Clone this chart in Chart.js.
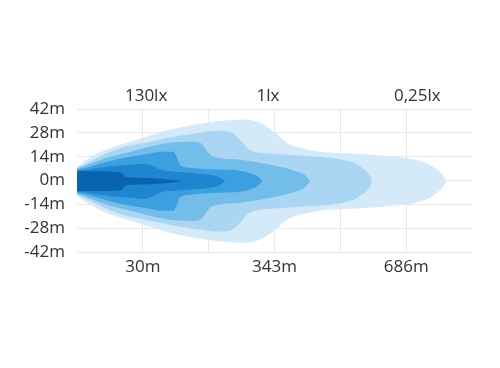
<!DOCTYPE html>
<html>
<head>
<meta charset="utf-8">
<script src="https://cdn.jsdelivr.net/npm/chart.js@4/dist/chart.umd.min.js"></script>
<style>
  html, body { margin: 0; padding: 0; background: #fff; }
</style>
</head>
<body>
<canvas id="chart" width="500" height="368"></canvas>
<script>
// axis labels
const distanceLabels = ['', '30m', '', '343m', '', '686m', ''];
const luxTicks = [1.05, 2.9, 5.17];
const luxLabels = ['130lx', '1lx', '0,25lx'];

// isolux contours: x in grid steps, y in metres (upper and lower edge)
// the nose starts a bit left of the axis and gets clipped there
const layer1X = [-0.12, -0.06, 0, 0.08, 0.2, 0.39, 0.65, 0.91, 1.41, 1.87, 2.25, 2.55, 2.81, 3.01, 3.19, 3.39, 3.69, 4.15, 4.65, 5.06, 5.29, 5.47, 5.56, 5.61];
const layer1Top = [-0.4, 5.5, 7.8, 10.5, 13.5, 17.3, 21.0, 24.0, 29.9, 33.4, 35.2, 35.8, 33.4, 28.1, 22.2, 19.3, 16.9, 15.8, 14.6, 12.8, 10.5, 6.4, 2.8, -0.4];
const layer1Bottom = [-0.4, -6.3, -8.6, -11.3, -14.3, -18.1, -21.8, -24.8, -30.7, -34.2, -36.0, -36.6, -34.2, -28.9, -23.0, -20.1, -17.7, -16.6, -15.4, -13.6, -11.3, -7.2, -3.6, -0.4];

const layer2X = [-0.12, -0.06, 0, 0.12, 0.27, 0.50, 0.81, 1.11, 1.49, 1.87, 2.17, 2.35, 2.48, 2.58, 2.70, 2.93, 3.39, 3.84, 4.15, 4.33, 4.45, 4.48];
const layer2Top = [-0.4, 5.2, 7.3, 9.6, 12.6, 16.8, 20.5, 22.8, 25.8, 28.1, 29.3, 28.1, 24.0, 19.3, 16.9, 15.8, 14.6, 13.4, 11.1, 7.5, 2.8, -0.4];
const layer2Bottom = [-0.4, -6.0, -8.1, -10.4, -13.4, -17.6, -21.3, -23.6, -26.6, -28.9, -30.1, -28.9, -24.8, -20.1, -17.7, -16.6, -15.4, -14.2, -11.9, -8.3, -3.6, -0.4];

const layer3X = [-0.12, -0.06, 0, 0.12, 0.27, 0.50, 0.81, 1.11, 1.41, 1.76, 1.87, 1.94, 2.02, 2.14, 2.48, 2.78, 3.08, 3.31, 3.46, 3.54];
const layer3Top = [-0.4, 4.9, 6.8, 8.6, 10.9, 13.9, 16.9, 19.9, 22.2, 22.8, 22.2, 19.3, 15.2, 13.4, 12.2, 10.5, 8.1, 5.8, 3.4, -0.4];
const layer3Bottom = [-0.4, -5.7, -7.6, -9.4, -11.7, -14.7, -17.7, -20.7, -23.0, -23.6, -23.0, -20.1, -16.0, -14.2, -13.0, -11.3, -8.9, -6.6, -4.2, -0.4];

const layer4X = [-0.12, -0.06, 0, 0.12, 0.27, 0.50, 0.81, 1.11, 1.26, 1.46, 1.52, 1.56, 1.72, 2.17, 2.48, 2.66, 2.75, 2.81];
const layer4Top = [-0.4, 4.6, 6.3, 7.3, 8.9, 11.4, 14.0, 15.8, 16.9, 16.9, 13.4, 9.3, 7.5, 6.4, 5.8, 4.0, 2.2, -0.4];
const layer4Bottom = [-0.4, -5.4, -7.1, -8.1, -9.7, -12.2, -14.8, -16.6, -17.7, -17.7, -14.2, -10.1, -8.3, -7.2, -6.6, -4.8, -3.0, -0.4];

const layer5X = [-0.12, -0.06, 0, 0.12, 0.27, 0.50, 0.81, 1.03, 1.14, 1.26, 1.49, 1.87, 2.10, 2.20, 2.25];
const layer5Top = [-0.4, 4.2, 5.8, 6.2, 7.2, 8.4, 9.3, 9.9, 8.8, 6.4, 5.2, 4.0, 2.8, 1.1, -0.4];
const layer5Bottom = [-0.4, -5.0, -6.6, -7.0, -8.0, -9.2, -10.1, -10.7, -9.6, -7.2, -6.0, -4.8, -3.6, -1.9, -0.4];

const layer6X = [-0.12, -0.06, 0, 0.08, 0.27, 0.58, 0.68, 0.74, 0.96, 1.26, 1.49, 1.59];
const layer6Top = [-0.4, 3.8, 5.3, 5.4, 5.4, 5.2, 4.6, 2.2, 1.6, 1.1, 0.2, -0.4];
const layer6Bottom = [-0.4, -4.6, -6.1, -6.2, -6.2, -6.0, -5.4, -3.0, -2.4, -1.9, -1.0, -0.4];

// darkest first so it ends up on top
const layers = [
  { x: layer6X, top: layer6Top, bottom: layer6Bottom, color: '#0a64ad' },
  { x: layer5X, top: layer5Top, bottom: layer5Bottom, color: '#1e86d0' },
  { x: layer4X, top: layer4Top, bottom: layer4Bottom, color: '#3c9fe0' },
  { x: layer3X, top: layer3Top, bottom: layer3Bottom, color: '#73bdeb' },
  { x: layer2X, top: layer2Top, bottom: layer2Bottom, color: '#aad6f3' },
  { x: layer1X, top: layer1Top, bottom: layer1Bottom, color: '#d4eaf9' }
];

const datasets = [];
layers.forEach(l => {
  const common = {
    borderWidth: 0,
    pointRadius: 0,
    cubicInterpolationMode: 'monotone',
    backgroundColor: l.color,
    borderColor: l.color
  };
  datasets.push(Object.assign({ data: l.x.map((x, i) => ({ x: x, y: l.top[i] })), fill: false }, common));
  datasets.push(Object.assign({ data: l.x.map((x, i) => ({ x: x, y: l.bottom[i] })), fill: '-1' }, common));
});

Chart.defaults.font.family = '"Open Sans", sans-serif';
Chart.defaults.font.size = 17;
Chart.defaults.color = '#333';

const gridColor = '#e8e8e8';

const ctx = document.getElementById('chart').getContext('2d');
const chart = new Chart(ctx, {
  type: 'line',
  data: { datasets: datasets },
  options: {
    responsive: false,
    animation: false,
    layout: { padding: { top: 79, right: 28, bottom: 86, left: 0 } },
    plugins: { legend: { display: false }, tooltip: { enabled: false } },
    scales: {
      x: {
        type: 'linear',
        min: 0,
        max: 6,
        afterFit: s => { s.height = 30; },
        border: { display: false },
        grid: {
          drawTicks: false,
          color: c => (c.tick && (c.tick.value === 0 || c.tick.value === 6)) ? 'rgba(0,0,0,0)' : gridColor
        },
        ticks: {
          stepSize: 1,
          padding: 5,
          autoSkip: false,
          maxRotation: 0,
          callback: v => distanceLabels[v]
        }
      },
      x2: {
        type: 'linear',
        position: 'top',
        min: 0,
        max: 6,
        afterFit: s => { s.height = 30; },
        afterBuildTicks: s => { s.ticks = luxTicks.map(v => ({ value: v })); },
        border: { display: false },
        grid: { display: false, drawTicks: false },
        ticks: {
          padding: 3,
          autoSkip: false,
          maxRotation: 0,
          callback: (v, i) => luxLabels[i]
        }
      },
      y: {
        min: -42,
        max: 42,
        afterFit: s => { s.width = 77; },
        border: { display: false },
        grid: { drawTicks: false, color: gridColor },
        ticks: {
          stepSize: 14,
          padding: 12,
          callback: v => v + 'm'
        }
      }
    }
  }
});
</script>
</body>
</html>
